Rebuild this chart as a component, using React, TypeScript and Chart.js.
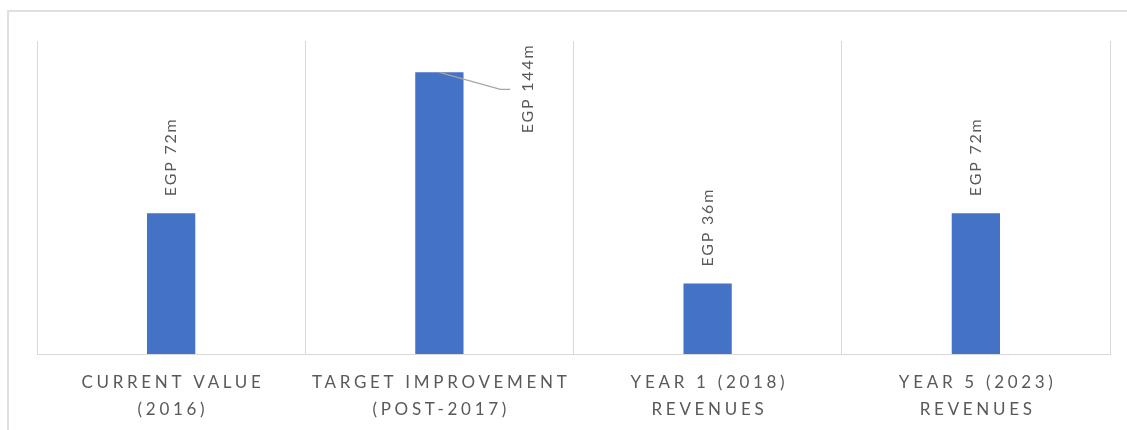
import React, { useEffect, useRef } from "react";
import { Chart, registerables } from "chart.js";

Chart.register(...registerables);

const categories: string[][] = [
  ["CURRENT VALUE", "(2016)"],
  ["TARGET IMPROVEMENT", "(POST-2017)"],
  ["YEAR 1 (2018)", "REVENUES"],
  ["YEAR 5 (2023)", "REVENUES"],
];
const values: number[] = [72, 144, 36, 72];
const valueLabels: string[] = ["EGP 72m", "EGP 144m", "EGP 36m", "EGP 72m"];

const TEXT_COLOR = "#595959";
const GRID_COLOR = "#d9d9d9";
const FONT = "Lato, 'Open Sans', sans-serif";

// label placement: default above bar; one label moved aside with a leader line
const movedLabel: Record<number, { dx: number; dy: number }> = { 1: { dx: 88, dy: 61 } };

const valueLabelPlugin = {
  id: "valueLabels",
  afterDatasetsDraw(chart: any) {
    const ctx = chart.ctx;
    const meta = chart.getDatasetMeta(0);
    ctx.save();
    ctx.font = `16px ${FONT}`;
    ctx.fillStyle = TEXT_COLOR;
    (ctx as any).letterSpacing = "1.8px";
    meta.data.forEach((bar: any, i: number) => {
      const mv = movedLabel[i];
      let tx = bar.x;
      let ty = bar.y - 17;
      if (mv) {
        tx = bar.x + mv.dx;
        ty = bar.y + mv.dy;
        ctx.save();
        ctx.strokeStyle = "#a6a6a6";
        ctx.lineWidth = 1.2;
        ctx.beginPath();
        ctx.moveTo(bar.x, bar.y);
        ctx.lineTo(bar.x + 61, bar.y + 17);
        ctx.lineTo(bar.x + 71, bar.y + 17);
        ctx.stroke();
        ctx.restore();
      }
      ctx.save();
      ctx.translate(tx, ty);
      ctx.rotate(-Math.PI / 2);
      ctx.textAlign = "left";
      ctx.textBaseline = "middle";
      ctx.fillText(valueLabels[i], 0, 0);
      ctx.restore();
    });
    ctx.restore();
  },
};

const xLabelPlugin = {
  id: "xLabels",
  afterDraw(chart: any) {
    const ctx = chart.ctx;
    const xs = chart.scales.x;
    const bottom = chart.chartArea.bottom;
    const spacing = 3.7;
    ctx.save();
    ctx.font = `17px ${FONT}`;
    ctx.fillStyle = TEXT_COLOR;
    ctx.textAlign = "center";
    ctx.textBaseline = "middle";
    (ctx as any).letterSpacing = `${spacing}px`;
    categories.forEach((lines, i) => {
      const x = xs.getPixelForValue(i) + spacing / 2;
      lines.forEach((ln, j) => {
        ctx.fillText(ln, x, bottom + 29 + j * 27);
      });
    });
    ctx.restore();
  },
};

export default function App() {
  const ref = useRef<HTMLCanvasElement | null>(null);
  useEffect(() => {
    document.body.style.margin = "0";
    if (!ref.current) return;
    const chart = new Chart(ref.current, {
      type: "bar",
      data: {
        labels: categories.map((c) => c.join(" ")),
        datasets: [
          {
            data: values,
            backgroundColor: "#4472c4",
            categoryPercentage: 1,
            barPercentage: 0.18,
          },
        ],
      },
      options: {
        animation: false,
        responsive: false,
        layout: { padding: { left: 37, right: 17, top: 41, bottom: 76 } },
        plugins: { legend: { display: false }, tooltip: { enabled: false } },
        scales: {
          x: {
            offset: true,
            grid: { color: GRID_COLOR, lineWidth: 1, offset: true, drawTicks: false },
            border: { color: GRID_COLOR, width: 1 },
            ticks: { display: false },
          },
          y: {
            display: false,
            min: 0,
            max: 160,
          },
        },
      },
      plugins: [valueLabelPlugin, xLabelPlugin],
    });
    return () => chart.destroy();
  }, []);
  return (
    <div style={{ position: "relative", width: 1127, height: 430 }}>
      <div
        style={{
          position: "absolute",
          left: 7,
          top: 10,
          right: 0,
          bottom: 0,
          borderTop: "2px solid #e0e0e0",
          borderLeft: "2px solid #e0e0e0",
        }}
      />
      <canvas ref={ref} width={1127} height={430} style={{ position: "absolute", left: 0, top: 0 }} />
    </div>
  );
}
